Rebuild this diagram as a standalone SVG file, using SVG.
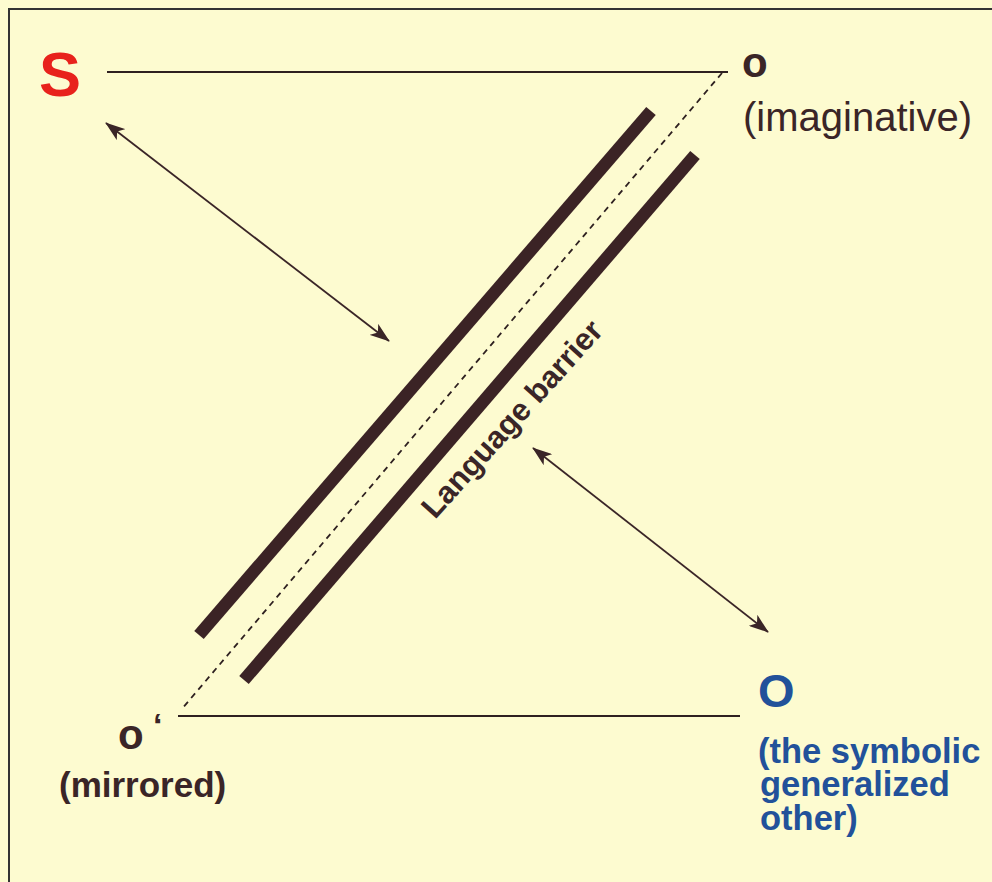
<svg xmlns="http://www.w3.org/2000/svg" width="992" height="882" viewBox="0 0 992 882">
<defs>
<style>
.ln{stroke:#2e2020;stroke-width:2;fill:none}
.bar{stroke:#3b2325;stroke-width:12.5;fill:none;stroke-linecap:butt}
.dash{stroke:#2e2020;stroke-width:1.8;fill:none;stroke-dasharray:6 5}
.arr{stroke:#3a2527;stroke-width:1.8;fill:none;marker-start:url(#ah);marker-end:url(#ah)}
.t{font-family:"Liberation Sans",Arial,sans-serif;fill:#3a2527}
.b{font-weight:bold}
.blue{fill:#22519a}
</style>
<marker id="ah" viewBox="0 0 20 14" refX="19" refY="7" markerWidth="20" markerHeight="14" markerUnits="userSpaceOnUse" orient="auto-start-reverse">
<path d="M0,0 L20,7 L0,14 L5,7 Z" fill="#3a2527"/>
</marker>
</defs>
<rect x="0" y="0" width="992" height="882" fill="#fdfbd0"/>
<path d="M9,882 V9 H992" stroke="#333" stroke-width="2" fill="none"/>
<g id="connectors">
<line class="ln" x1="107" y1="72" x2="728" y2="72"/>
<line class="ln" x1="178" y1="716" x2="740" y2="716"/>
<line class="dash" x1="722" y1="73" x2="181" y2="710"/>
<line class="bar" x1="199" y1="635" x2="651" y2="111"/>
<line class="bar" x1="244" y1="680" x2="695" y2="155"/>
<line class="arr" x1="106" y1="123" x2="389" y2="341"/>
<line class="arr" x1="533" y1="448" x2="768" y2="632"/>
</g>
<g id="S">
<text class="t b" x="39" y="96" font-size="63" style="fill:#e8221c">S</text>
</g>
<g id="o-imaginative">
<text class="t b" x="742" y="77" font-size="42">o</text>
<text class="t" x="743" y="131" font-size="40">(imaginative)</text>
</g>
<g id="o-mirrored">
<text class="t b" x="118" y="749" font-size="42">o<tspan x="153" y="737" font-size="34">‘</tspan></text>
<text class="t b" x="59" y="797" font-size="35">(mirrored)</text>
</g>
<g id="O-other">
<text class="t b blue" x="758" y="707" font-size="47">O</text>
<text class="t b blue" x="758" y="763" font-size="34.5">(the symbolic</text>
<text class="t b blue" x="760" y="796" font-size="34.5">generalized</text>
<text class="t b blue" x="760" y="830" font-size="34.5">other)</text>
</g>
<g id="barrier-label">
<text class="t b" x="0" y="0" font-size="31" transform="translate(435,520) rotate(-48)">Language barrier</text>
</g>
</svg>
